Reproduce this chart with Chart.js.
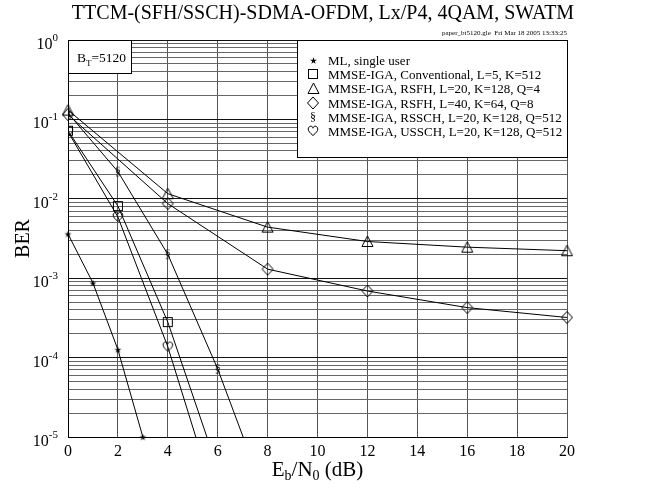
<!DOCTYPE html>
<html>
<head>
<meta charset="utf-8">
<script src="https://cdn.jsdelivr.net/npm/chart.js@4"></script>
<style>
  html, body { margin: 0; padding: 0; background: #fff; }
</style>
</head>
<body>
<canvas id="chart" width="647" height="488"></canvas>
<script>
// Werte
const xML = [0, 1, 2, 3];
const berML = [3.6e-3, 8.7e-4, 1.26e-4, 1.0e-5];
const xConv = [0, 2, 4, 6];
const berConv = [7.2e-2, 8.1e-3, 2.8e-4, 4.0e-6];
const xRsfh = [0, 4, 8, 12, 16, 20];
const berRsfhQ4 = [0.131, 1.16e-2, 4.4e-3, 2.9e-3, 2.46e-3, 2.22e-3];
const berRsfhQ8 = [0.115, 8.7e-3, 1.3e-3, 6.9e-4, 4.26e-4, 3.2e-4];
const xRssch = [0, 2, 4, 6, 8];
const berRssch = [0.12, 2.2e-2, 2.0e-3, 7.2e-5, 1.5e-6];
const xUssch = [0, 2, 4, 6];
const berUssch = [0.07, 5.9e-3, 1.37e-4, 1.3e-6];

const xTicks = [0, 2, 4, 6, 8, 10, 12, 14, 16, 18, 20];
const yDecades = [-5, -4, -3, -2, -1, 0];
const legendLabels = [
  "ML, single user",
  "MMSE-IGA, Conventional, L=5, K=512",
  "MMSE-IGA, RSFH, L=20, K=128, Q=4",
  "MMSE-IGA, RSFH, L=40, K=64, Q=8",
  "MMSE-IGA, RSSCH, L=20, K=128, Q=512",
  "MMSE-IGA, USSCH, L=20, K=128, Q=512",
];

const SERIF = "'Liberation Serif', 'Times New Roman', serif";

// kleine Marker als Canvas
const makeMarker = (size, draw) => {
  const c = document.createElement("canvas");
  c.width = size;
  c.height = size;
  const ctx = c.getContext("2d");
  ctx.strokeStyle = "#000";
  ctx.fillStyle = "#000";
  ctx.lineWidth = 1;
  draw(ctx, size);
  return c;
};

const starMarker = makeMarker(9, (ctx) => {
  ctx.beginPath();
  for (let i = 0; i < 10; i++) {
    const r = i % 2 === 0 ? 3.6 : 1.4;
    const a = -Math.PI / 2 + (i * Math.PI) / 5;
    const px = 4.5 + r * Math.cos(a);
    const py = 4.8 + r * Math.sin(a);
    if (i === 0) ctx.moveTo(px, py);
    else ctx.lineTo(px, py);
  }
  ctx.closePath();
  ctx.fill();
});
const squareMarker = makeMarker(12, (ctx) => {
  ctx.strokeRect(1.5, 1.5, 9, 9);
});
const triangleMarker = makeMarker(13, (ctx) => {
  ctx.beginPath();
  ctx.moveTo(6.5, 1);
  ctx.lineTo(12, 11.5);
  ctx.lineTo(1, 11.5);
  ctx.closePath();
  ctx.stroke();
});
const diamondMarker = makeMarker(14, (ctx) => {
  ctx.beginPath();
  ctx.moveTo(7, 1);
  ctx.lineTo(12.5, 7);
  ctx.lineTo(7, 13);
  ctx.lineTo(1.5, 7);
  ctx.closePath();
  ctx.stroke();
});
const sectionMarker = makeMarker(12, (ctx) => {
  ctx.font = "12px " + SERIF;
  ctx.textAlign = "center";
  ctx.textBaseline = "middle";
  ctx.fillText("\u00a7", 6, 6.5);
});
const heartMarker = makeMarker(12, (ctx) => {
  ctx.beginPath();
  ctx.moveTo(6, 10.5);
  ctx.bezierCurveTo(3, 8, 1.2, 6, 1.2, 4);
  ctx.bezierCurveTo(1.2, 2, 3, 1.2, 4, 1.2);
  ctx.bezierCurveTo(5, 1.2, 5.8, 2, 6, 3.2);
  ctx.bezierCurveTo(6.2, 2, 7, 1.2, 8, 1.2);
  ctx.bezierCurveTo(9, 1.2, 10.8, 2, 10.8, 4);
  ctx.bezierCurveTo(10.8, 6, 9, 8, 6, 10.5);
  ctx.closePath();
  ctx.stroke();
});
const markers = [starMarker, squareMarker, triangleMarker, diamondMarker, sectionMarker, heartMarker];

const toPoints = (xs, ys) => xs.map((x, i) => ({ x: x, y: ys[i] }));

const makeDataset = (label, xs, ys, marker, clip) => ({
  label: label,
  data: toPoints(xs, ys),
  showLine: true,
  borderColor: "#000",
  borderWidth: 1,
  backgroundColor: "#000",
  pointStyle: marker,
  pointRadius: 5,
  pointHoverRadius: 5,
  tension: 0,
  clip: clip,
});

// Texte, Legende und Kaestchen zeichnen
const overlayPlugin = {
  id: "overlay",
  afterDraw(chart) {
    const ctx = chart.ctx;
    const area = chart.chartArea;
    const yScale = chart.scales.y;
    ctx.save();
    ctx.fillStyle = "#000";
    ctx.textBaseline = "alphabetic";

    // Titel
    ctx.font = "20px " + SERIF;
    ctx.textAlign = "center";
    ctx.fillText("TTCM-(SFH/SSCH)-SDMA-OFDM, Lx/P4, 4QAM, SWATM", 323, 19);

    // gle Stempel
    ctx.font = "7px " + SERIF;
    ctx.textAlign = "right";
    ctx.fillText("paper_bt5120.gle  Fri Mar 18 2005 13:33:25", area.right, 35);

    // y Beschriftungen 10^n
    yDecades.forEach((e) => {
      const py = yScale.getPixelForValue(Math.pow(10, e));
      const exp = String(e);
      ctx.font = "11px " + SERIF;
      const expW = ctx.measureText(exp).width;
      ctx.textAlign = "left";
      const right = area.left - 10;
      ctx.fillText(exp, right - expW, py + 1);
      ctx.font = "16px " + SERIF;
      ctx.textAlign = "right";
      ctx.fillText("10", right - expW, py + 9);
    });

    // y Achsentitel
    ctx.save();
    ctx.translate(29, (area.top + area.bottom) / 2);
    ctx.rotate(-Math.PI / 2);
    ctx.font = "20px " + SERIF;
    ctx.textAlign = "center";
    ctx.fillText("BER", 0, 0);
    ctx.restore();

    // x Achsentitel E_b/N_0 (dB)
    const parts = [
      ["E", 21, 0], ["b", 14, 4], ["/N", 21, 0], ["0", 14, 4], [" (dB)", 21, 0],
    ];
    let total = 0;
    parts.forEach((p) => {
      ctx.font = p[1] + "px " + SERIF;
      total += ctx.measureText(p[0]).width;
    });
    let tx = (area.left + area.right) / 2 - total / 2;
    ctx.textAlign = "left";
    parts.forEach((p) => {
      ctx.font = p[1] + "px " + SERIF;
      ctx.fillText(p[0], tx, 476 + p[2]);
      tx += ctx.measureText(p[0]).width;
    });

    // B_T Kaestchen
    ctx.fillStyle = "#fff";
    ctx.fillRect(area.left, area.top, 63, 33);
    ctx.strokeStyle = "#000";
    ctx.lineWidth = 1;
    ctx.strokeRect(area.left + 0.5, area.top + 0.5, 63, 33);
    ctx.fillStyle = "#000";
    ctx.font = "13.5px " + SERIF;
    let bx = area.left + 9;
    ctx.fillText("B", bx, area.top + 22);
    bx += ctx.measureText("B").width;
    ctx.font = "9px " + SERIF;
    ctx.fillText("T", bx, area.top + 26);
    bx += ctx.measureText("T").width;
    ctx.font = "13.5px " + SERIF;
    ctx.fillText("=5120", bx, area.top + 22);

    // Legende
    const lx = 297;
    const ly = area.top;
    const lw = area.right - lx;
    const lh = 117;
    ctx.fillStyle = "#fff";
    ctx.fillRect(lx, ly, lw, lh);
    ctx.strokeRect(lx + 0.5, ly + 0.5, lw, lh);
    ctx.fillStyle = "#000";
    ctx.font = "13px " + SERIF;
    legendLabels.forEach((label, i) => {
      const rowY = ly + 20 + i * 14.2;
      const m = markers[i];
      ctx.drawImage(m, Math.round(313 - m.width / 2), Math.round(rowY - m.height / 2));
      ctx.fillText(label, 328, rowY + 5);
    });

    ctx.restore();
  },
};

const canvas = document.getElementById("chart");
new Chart(canvas, {
  type: "scatter",
  data: {
    datasets: [
      makeDataset(legendLabels[0], xML, berML, starMarker, 6),
      makeDataset(legendLabels[1], xConv, berConv, squareMarker, 0),
      makeDataset(legendLabels[2], xRsfh, berRsfhQ4, triangleMarker, 6),
      makeDataset(legendLabels[3], xRsfh, berRsfhQ8, diamondMarker, 6),
      makeDataset(legendLabels[4], xRssch, berRssch, sectionMarker, 0),
      makeDataset(legendLabels[5], xUssch, berUssch, heartMarker, 0),
    ],
  },
  options: {
    responsive: false,
    animation: false,
    devicePixelRatio: 1,
    layout: { padding: { left: 0, right: 80, top: 40, bottom: 0 } },
    plugins: {
      legend: { display: false },
      tooltip: { enabled: false },
      title: { display: false },
    },
    scales: {
      x: {
        type: "linear",
        min: 0,
        max: 20,
        afterBuildTicks: (scale) => {
          scale.ticks = xTicks.map((v) => ({ value: v }));
        },
        afterFit: (scale) => {
          scale.height = 51;
        },
        ticks: {
          color: "#000",
          font: { family: SERIF, size: 16 },
          padding: 5,
          maxRotation: 0,
        },
        grid: { color: "#555", drawTicks: false, lineWidth: 1 },
        border: { color: "#000", width: 1 },
      },
      y: {
        type: "logarithmic",
        min: 1e-5,
        max: 1,
        afterBuildTicks: (scale) => {
          const t = [];
          yDecades.forEach((e) => {
            const mults = e === 0 ? [1] : [1, 2, 3, 4, 5, 6, 7, 8, 9];
            mults.forEach((m) => t.push({ value: m * Math.pow(10, e), major: m === 1 }));
          });
          scale.ticks = t;
        },
        afterFit: (scale) => {
          scale.width = 68;
        },
        ticks: { display: false },
        grid: {
          drawTicks: false,
          lineWidth: 1,
          color: (c) => (c.tick && c.tick.major ? "#111" : "#666"),
        },
        border: { color: "#000", width: 1 },
      },
    },
  },
  plugins: [overlayPlugin],
});
</script>
</body>
</html>
